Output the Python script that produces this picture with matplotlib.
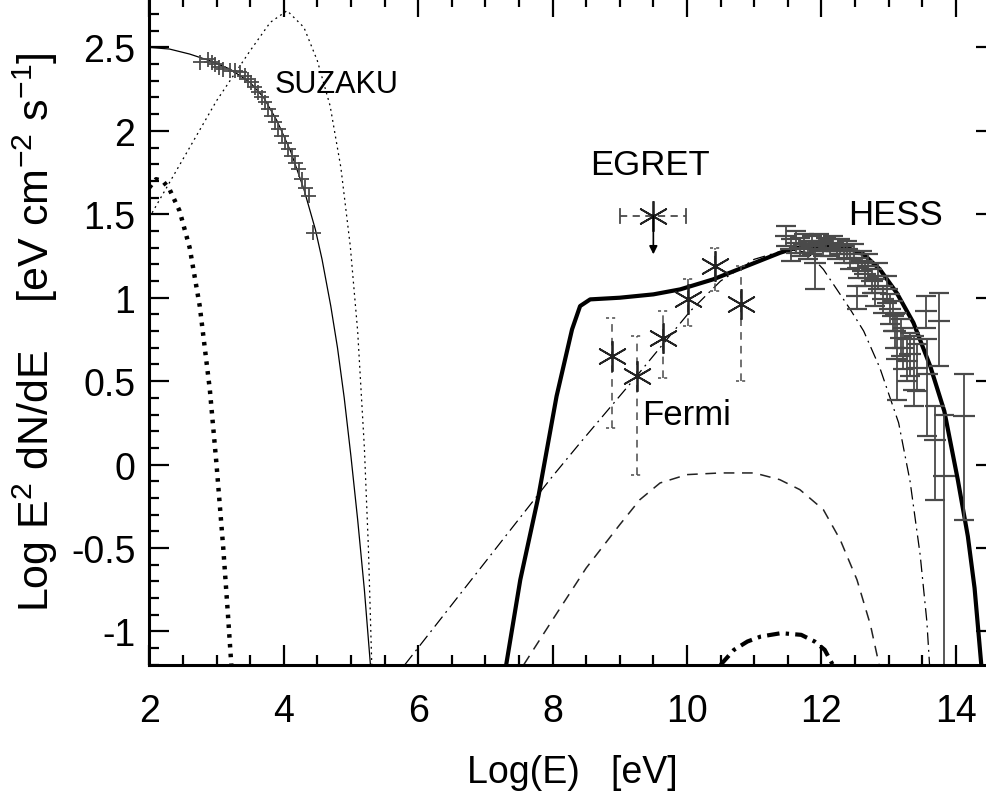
"""Broadband SED: SUZAKU X-rays, Fermi/EGRET GeV and HESS TeV points with model curves."""
import matplotlib
matplotlib.use("Agg")
import matplotlib.pyplot as plt
import numpy as np
from matplotlib.ticker import MultipleLocator

plt.rcParams["font.family"] = ["Liberation Sans", "DejaVu Sans"]
plt.rcParams["mathtext.fontset"] = "custom"
plt.rcParams["mathtext.rm"] = "Liberation Sans"
plt.rcParams["mathtext.it"] = "Liberation Sans"

# ---- model curves (log E [eV], log E^2 dN/dE) ----
sync_x = [2.0, 2.3, 2.6, 2.9, 3.2, 3.5, 3.7, 3.9, 4.1, 4.3, 4.47, 4.57, 4.7, 4.8, 4.9, 5.0, 5.1, 5.2, 5.29]
sync_y = [2.50, 2.49, 2.46, 2.42, 2.37, 2.29, 2.20, 2.06, 1.88, 1.65, 1.41, 1.23, 0.95, 0.70, 0.40, 0.05, -0.33, -0.75, -1.2]

sync2_x = [2.0, 2.5, 3.0, 3.5, 3.8, 4.05, 4.3, 4.5, 4.69, 4.85, 4.99, 5.1, 5.2, 5.26, 5.31]
sync2_y = [1.48, 1.83, 2.18, 2.48, 2.65, 2.72, 2.62, 2.42, 2.15, 1.78, 1.31, 0.80, 0.10, -0.50, -1.2]

sec_x = [2.0, 2.1, 2.2, 2.3, 2.45, 2.6, 2.75, 2.9, 3.0, 3.1, 3.17, 3.22]
sec_y = [1.66, 1.71, 1.70, 1.65, 1.52, 1.30, 0.95, 0.45, 0.0, -0.5, -0.9, -1.2]

total_x = [7.31, 7.52, 7.79, 8.06, 8.29, 8.41, 8.56, 9.0, 9.5, 9.9, 10.39, 10.89, 11.39, 11.63,
           12.13, 12.38, 12.63, 12.87, 13.12, 13.37, 13.62, 13.83, 14.03, 14.18, 14.28, 14.38]
total_y = [-1.2, -0.69, -0.19, 0.41, 0.81, 0.95, 0.99, 1.0, 1.02, 1.05, 1.11, 1.19, 1.27, 1.30,
           1.31, 1.30, 1.26, 1.17, 1.03, 0.85, 0.59, 0.32, -0.09, -0.43, -0.74, -1.2]

pion_x = [5.8, 6.5, 7.22, 8.0, 8.41, 9.25, 10.05, 10.5, 11.0, 11.5, 11.8, 12.03, 12.23, 12.43,
          12.63, 12.87, 13.15, 13.32, 13.47, 13.57, 13.61]
pion_y = [-1.2, -0.84, -0.47, -0.07, 0.13, 0.53, 0.92, 1.10, 1.23, 1.29, 1.27, 1.17, 1.05, 0.93,
          0.80, 0.58, 0.25, -0.10, -0.54, -0.94, -1.2]

ic_x = [7.57, 8.0, 8.5, 9.0, 9.3, 9.6, 10.0, 10.5, 11.0, 11.38, 11.68, 12.03, 12.28, 12.53, 12.73, 12.86]
ic_y = [-1.2, -0.93, -0.62, -0.36, -0.21, -0.11, -0.06, -0.05, -0.05, -0.09, -0.15, -0.27, -0.45, -0.69, -0.96, -1.2]

brems_x = [10.5, 10.7, 10.9, 11.1, 11.4, 11.7, 11.9, 12.05, 12.17]
brems_y = [-1.2, -1.11, -1.06, -1.03, -1.01, -1.02, -1.06, -1.11, -1.2]

# ---- SUZAKU ----
suzaku_x = [2.76, 2.88, 2.93, 2.98, 3.03, 3.10, 3.20, 3.28, 3.35, 3.42, 3.47, 3.52, 3.57, 3.62, 3.67,
            3.72, 3.77, 3.82, 3.87, 3.92, 3.97, 4.02, 4.07, 4.12, 4.17, 4.22, 4.27, 4.32, 4.37, 4.44]
suzaku_y = [2.41, 2.43, 2.41, 2.40, 2.38, 2.37, 2.36, 2.36, 2.35, 2.33, 2.31, 2.29, 2.26, 2.23, 2.20,
            2.17, 2.13, 2.09, 2.05, 2.01, 1.97, 1.93, 1.89, 1.85, 1.81, 1.77, 1.71, 1.66, 1.61, 1.39]

# ---- Fermi ----
fermi_x = [8.88, 9.25, 9.65, 10.02, 10.42, 10.81]
fermi_y = [0.65, 0.53, 0.76, 0.99, 1.19, 0.96]
fermi_lo = [0.22, -0.06, 0.52, 0.83, 1.04, 0.50]
fermi_hi = [0.88, 0.77, 0.92, 1.11, 1.30, 1.19]

# ---- EGRET upper limit ----
egret_x, egret_y = 9.50, 1.49
egret_xlo, egret_xhi = 9.00, 9.99
egret_arrow_to = 1.26

# ---- HESS ----
hess_x = [11.48, 11.55, 11.62, 11.68, 11.74, 11.80, 11.86, 11.91, 11.96, 12.02, 12.07, 12.13, 12.18,
          12.23, 12.28, 12.33, 12.38, 12.43, 12.48, 12.53, 12.55, 12.60, 12.65, 12.70, 12.75, 12.80,
          12.85, 12.92, 12.97, 13.02, 13.07, 13.10, 13.13, 13.18, 13.22, 13.27, 13.32, 13.38, 13.43,
          13.56, 13.57, 13.69, 13.75, 13.82, 14.12]
hess_y = [1.37, 1.29, 1.33, 1.30, 1.32, 1.29, 1.31, 1.21, 1.33, 1.29, 1.32, 1.30, 1.33,
          1.28, 1.31, 1.26, 1.29, 1.23, 1.26, 1.01, 1.18, 1.22, 1.14, 1.19, 1.10, 1.03,
          1.13, 0.99, 1.05, 0.93, 0.89, 0.80, 0.63, 0.76, 0.70, 0.62, 0.66, 0.45, 0.58,
          0.92, 0.54, 0.15, 0.86, -0.07, 0.29]
hess_lo = [1.31, 1.22, 1.27, 1.25, 1.27, 1.23, 1.26, 1.05, 1.28, 1.25, 1.28, 1.25, 1.29,
           1.23, 1.26, 1.21, 1.24, 1.17, 1.21, 0.93, 1.12, 1.16, 1.07, 1.12, 1.03, 0.95,
           1.05, 0.91, 0.97, 0.84, 0.80, 0.70, 0.39, 0.65, 0.57, 0.50, 0.53, 0.35, 0.44,
           0.82, 0.17, -0.21, 0.59, -1.3, -0.33]
hess_hi = [1.43, 1.35, 1.40, 1.36, 1.38, 1.34, 1.37, 1.31, 1.38, 1.34, 1.36, 1.35, 1.37,
           1.32, 1.35, 1.31, 1.34, 1.28, 1.32, 1.07, 1.24, 1.28, 1.21, 1.26, 1.17, 1.11,
           1.21, 1.07, 1.13, 1.02, 0.98, 0.90, 0.91, 0.87, 0.82, 0.75, 0.79, 0.77, 0.72,
           1.01, 0.75, 0.35, 1.03, 0.30, 0.54]

TXT = 25
DATA = "#4a4a4a"
STAR = (6, 2, 0)   # six-armed asterisk, one arm vertical


def draw_models(ax):
    ax.plot(sync_x, sync_y, color="k", lw=0.9)
    ax.plot(sync2_x, sync2_y, color="k", lw=0.9, ls=(0, (1.5, 3)))
    ax.plot(sec_x, sec_y, color="k", lw=3.2, ls=(0, (0.8, 1.4)), dash_capstyle="butt")
    ax.plot(total_x, total_y, color="k", lw=3.0, solid_joinstyle="round")
    ax.plot(pion_x, pion_y, color="k", lw=0.9, ls=(0, (10, 4, 1.5, 4)))
    ax.plot(ic_x, ic_y, color="#222222", lw=1.1, ls=(0, (7, 5)))
    ax.plot(brems_x, brems_y, color="k", lw=3.0, ls=(0, (3, 1.5, 0.8, 1.5)))


def draw_data(ax):
    ax.errorbar(suzaku_x, suzaku_y, xerr=0.11, yerr=0.045, fmt="none",
                ecolor=DATA, elinewidth=1.3)

    # Fermi: asterisks with dashed error bars and short dashed caps
    for x, lo, hi in zip(fermi_x, fermi_lo, fermi_hi):
        ax.plot([x, x], [lo, hi], color=DATA, lw=1.1, ls=(0, (5, 4)))
        for yc in (lo, hi):
            ax.plot([x - 0.08, x + 0.08], [yc, yc], color=DATA, lw=1.1, ls=(0, (2, 2)))
    ax.plot(fermi_x, fermi_y, ls="none", marker=STAR, ms=22, mew=1.3, color="#222222")

    # EGRET upper limit
    ax.plot([egret_xlo, egret_xhi], [egret_y, egret_y], color=DATA, lw=1.3, ls=(0, (4, 3)))
    for xc in (egret_xlo, egret_xhi):
        ax.plot([xc, xc], [egret_y - 0.04, egret_y + 0.04], color=DATA, lw=1.3)
    ax.plot([egret_x], [egret_y], ls="none", marker=STAR, ms=22, mew=1.3, color="#222222")
    ax.annotate("", xy=(egret_x, egret_arrow_to), xytext=(egret_x, egret_y),
                arrowprops=dict(arrowstyle="-|>", color="k", lw=1.2, mutation_scale=12,
                                shrinkA=0, shrinkB=0))

    y = np.array(hess_y)
    yerr = [y - np.array(hess_lo), np.array(hess_hi) - y]
    ax.errorbar(hess_x, hess_y, yerr=yerr, fmt="_", ms=16, mew=1.6, color=DATA,
                ecolor=DATA, elinewidth=1.3, capsize=7, capthick=1.6)


def style_axes(ax):
    ax.set_xlim(2, 14.6)
    ax.set_ylim(-1.2, 2.8)
    ax.xaxis.set_major_locator(MultipleLocator(2))
    ax.xaxis.set_minor_locator(MultipleLocator(0.5))
    ax.yaxis.set_major_locator(MultipleLocator(0.5))
    ax.yaxis.set_minor_locator(MultipleLocator(0.1))
    ax.tick_params(which="both", direction="in", top=True, right=True, width=1.6)
    ax.tick_params(which="major", length=14.5, labelsize=27)
    ax.tick_params(which="minor", length=7)
    ax.tick_params(axis="x", pad=20)
    ax.tick_params(axis="y", pad=10)
    ax.set_yticks([-1, -0.5, 0, 0.5, 1, 1.5, 2, 2.5])
    ax.set_yticklabels(["-1", "-0.5", "0", "0.5", "1", "1.5", "2", "2.5"])
    for s in ax.spines.values():
        s.set_linewidth(2.2)
    ax.set_xlabel("Log(E)   [eV]", fontsize=27, labelpad=18)
    ax.set_ylabel(r"Log E$^2$ dN/dE    [eV cm$^{-2}$ s$^{-1}$]", fontsize=31, labelpad=8)


def main():
    fig = plt.figure(figsize=(9.87, 8.04), dpi=100)
    ax = fig.add_axes([0.1513, 0.1718, 0.8579, 0.8303])
    draw_models(ax)
    draw_data(ax)
    style_axes(ax)
    ax.text(4.78, 2.28, "SUZAKU", fontsize=TXT - 3, ha="center", va="center")
    ax.text(9.45, 1.80, "EGRET", fontsize=TXT, ha="center", va="center")
    ax.text(13.10, 1.50, "HESS", fontsize=TXT, ha="center", va="center")
    ax.text(9.99, 0.30, "Fermi", fontsize=TXT, ha="center", va="center")
    fig.savefig("out.png", dpi=100)
    plt.close(fig)


if __name__ == "__main__":
    main()
